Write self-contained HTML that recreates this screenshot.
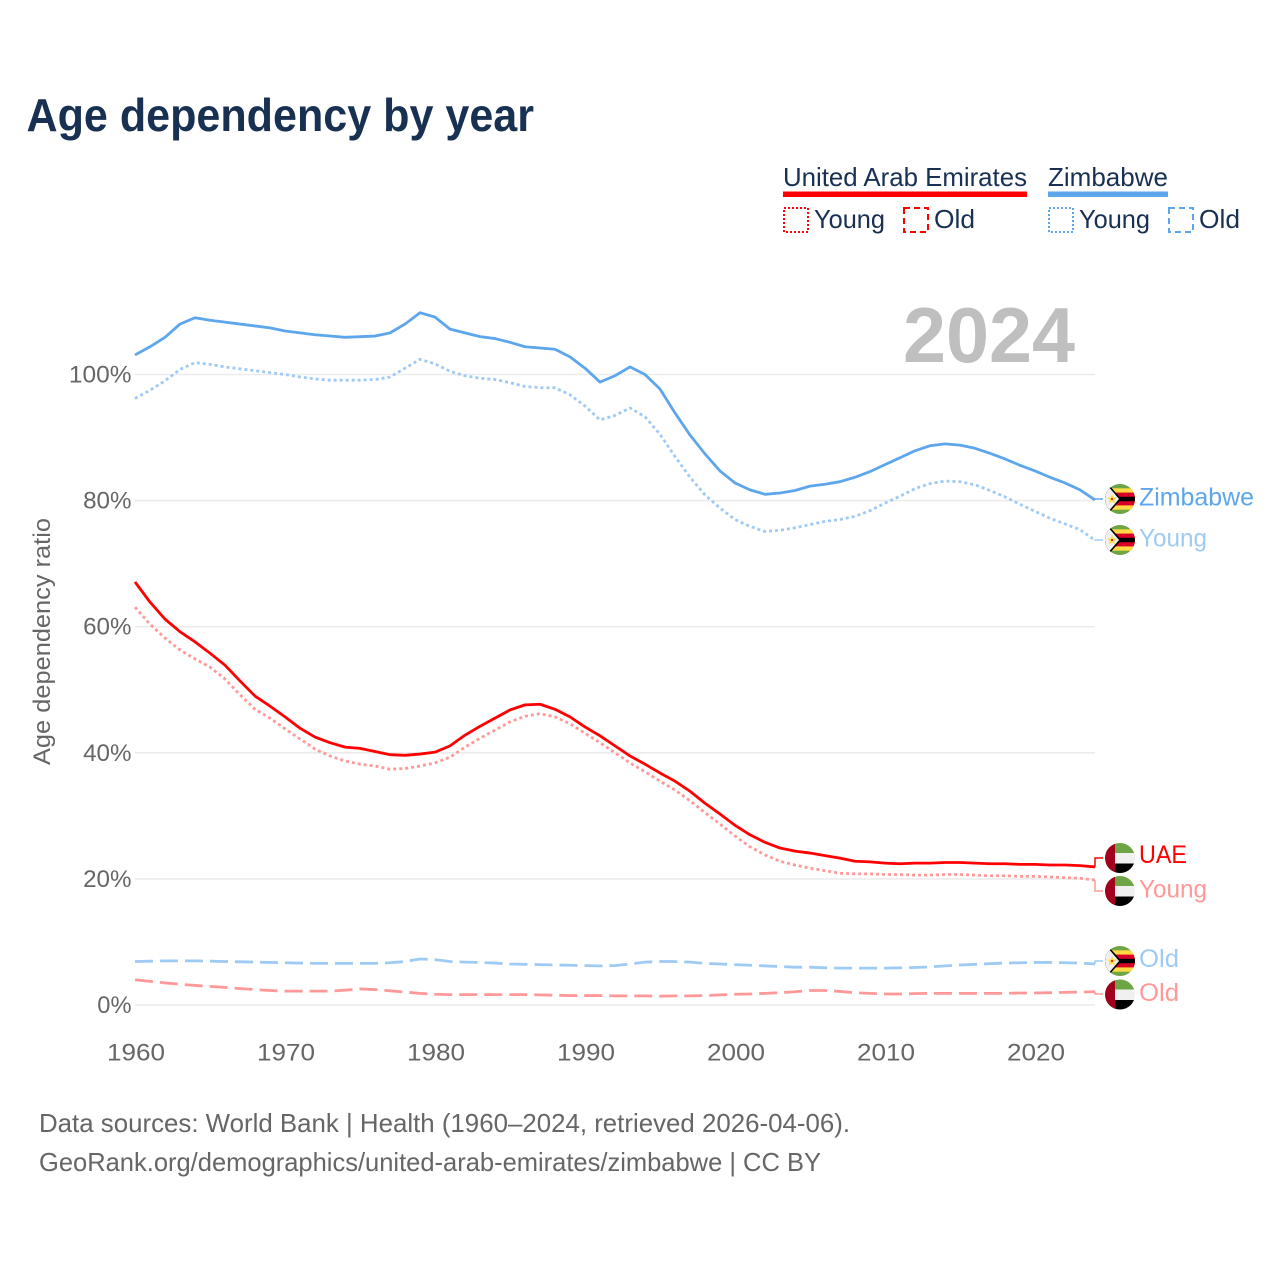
<!DOCTYPE html>
<html lang="en">
<head>
<meta charset="utf-8">
<title>Age dependency by year</title>
<style>
  html, body { margin: 0; padding: 0; background: #fff; }
  svg { display: block; font-family: "Liberation Sans", sans-serif; }
</style>
</head>
<body>
<svg id="chart" xmlns="http://www.w3.org/2000/svg" width="1280" height="1280" viewBox="0 0 1280 1280">
  <defs>
    <clipPath id="flag-clip"><circle cx="0" cy="0" r="15"/></clipPath>
    <g id="flag-zw" clip-path="url(#flag-clip)">
      <rect x="-15" y="-15" width="30" height="30" fill="#6da544"/>
      <rect x="-15" y="-10.7" width="30" height="21.4" fill="#ffda44"/>
      <rect x="-15" y="-6.4" width="30" height="12.8" fill="#d80027"/>
      <rect x="-15" y="-2.2" width="30" height="4.4" fill="#000"/>
      <path d="M-16,-16 L-12,-15 L1.5,0 L-12,15 L-16,16 Z" fill="#000"/>
      <path d="M-16,-14.5 L-12.5,-13.5 L-1,0 L-12.5,13.5 L-16,14.5 Z" fill="#f0f0f0"/>
      <path d="M-8,-5 L-6.6,-1.5 L-3,-1.5 L-5.8,0.8 L-4.9,4.5 L-8,2.4 L-11.1,4.5 L-10.2,0.8 L-13,-1.5 L-9.4,-1.5 Z" fill="#ffda44"/>
      <circle cx="-8" cy="0" r="1" fill="#d80027"/>
    </g>
    <g id="flag-ae" clip-path="url(#flag-clip)">
      <rect x="-15" y="-15" width="30" height="10" fill="#6da544"/>
      <rect x="-15" y="-5" width="30" height="10.5" fill="#f0f0f0"/>
      <rect x="-15" y="5.5" width="30" height="9.5" fill="#000"/>
      <rect x="-15" y="-15" width="10" height="30" fill="#a2001d"/>
    </g>
  </defs>

  <text x="26.5" y="131" font-size="46" font-weight="700" fill="#183153" textLength="507.5" lengthAdjust="spacingAndGlyphs">Age dependency by year</text>

  <g font-size="26" fill="#183153">
    <text x="783" y="186" textLength="244" lengthAdjust="spacingAndGlyphs">United Arab Emirates</text>
    <rect x="783" y="191.5" width="244" height="5.5" fill="#ff0000"/>
    <text x="1048" y="186" textLength="120" lengthAdjust="spacingAndGlyphs">Zimbabwe</text>
    <rect x="1048" y="191.5" width="120" height="5.5" fill="#5ea6eb"/>

    <rect x="784" y="208" width="24" height="24" fill="none" stroke="#ff0000" stroke-width="2" stroke-dasharray="2 2"/>
    <text x="814" y="228" textLength="71" lengthAdjust="spacingAndGlyphs">Young</text>
    <rect x="904" y="208" width="24" height="24" fill="none" stroke="#ff0000" stroke-width="2" stroke-dasharray="6 4"/>
    <text x="934" y="228" textLength="41" lengthAdjust="spacingAndGlyphs">Old</text>

    <rect x="1049" y="208" width="24" height="24" fill="none" stroke="#5ea6eb" stroke-width="2" stroke-dasharray="2 2"/>
    <text x="1079" y="228" textLength="71" lengthAdjust="spacingAndGlyphs">Young</text>
    <rect x="1169" y="208" width="24" height="24" fill="none" stroke="#5ea6eb" stroke-width="2" stroke-dasharray="6 4"/>
    <text x="1199" y="228" textLength="41" lengthAdjust="spacingAndGlyphs">Old</text>
  </g>

  <text transform="translate(50,765) rotate(-90)" font-size="24" fill="#666" textLength="247" lengthAdjust="spacingAndGlyphs">Age dependency ratio</text>

  <g id="grid"></g>
  <g id="y-ticks"></g>
  <g id="x-ticks"></g>

  <text x="1075" y="362" text-anchor="end" font-size="78" font-weight="700" fill="#bfbfbf" textLength="172" lengthAdjust="spacingAndGlyphs">2024</text>

  <g id="series"></g>

  <g font-size="25">
    <use href="#flag-zw" x="1120" y="499"/>
    <text x="1139" y="505.5" fill="#5ea6eb" textLength="115" lengthAdjust="spacingAndGlyphs">Zimbabwe</text>
    <use href="#flag-zw" x="1120" y="540"/>
    <text x="1139" y="546.5" fill="#9fcaf4" textLength="68" lengthAdjust="spacingAndGlyphs">Young</text>
    <use href="#flag-ae" x="1120" y="858"/>
    <text x="1139" y="863" fill="#ff0000" textLength="48" lengthAdjust="spacingAndGlyphs">UAE</text>
    <use href="#flag-ae" x="1120" y="891"/>
    <text x="1139" y="897.5" fill="#ff9999" textLength="68" lengthAdjust="spacingAndGlyphs">Young</text>
    <use href="#flag-zw" x="1120" y="961"/>
    <text x="1139" y="967" fill="#9fcaf4" textLength="40" lengthAdjust="spacingAndGlyphs">Old</text>
    <use href="#flag-ae" x="1120" y="994.5"/>
    <text x="1139" y="1001" fill="#ff9999" textLength="40" lengthAdjust="spacingAndGlyphs">Old</text>
  </g>

  <g font-size="26" fill="#666">
    <text x="39" y="1132" textLength="811" lengthAdjust="spacingAndGlyphs">Data sources: World Bank | Health (1960–2024, retrieved 2026-04-06).</text>
    <text x="39" y="1171" textLength="782" lengthAdjust="spacingAndGlyphs">GeoRank.org/demographics/united-arab-emirates/zimbabwe | CC BY</text>
  </g>
</svg>

<script>
const yearStart = 1960;
const xTickYears = [1960, 1970, 1980, 1990, 2000, 2010, 2020];
const yTickValues = [0, 20, 40, 60, 80, 100];

const zimbabweTotal = [103.1,104.4,105.9,108.0,109.0,108.6,108.3,108.0,107.7,107.4,106.9,106.6,106.3,106.1,105.9,106.0,106.1,106.6,108.0,109.8,109.1,107.2,106.6,106.0,105.7,105.1,104.4,104.2,104.0,102.8,101.0,98.8,99.8,101.2,100.0,97.7,93.9,90.4,87.4,84.7,82.8,81.7,81.0,81.2,81.6,82.3,82.6,83.0,83.7,84.6,85.7,86.8,87.9,88.7,89.0,88.8,88.3,87.5,86.6,85.6,84.7,83.7,82.8,81.7,80.1];
const zimbabweYoung = [96.2,97.5,99.0,100.8,101.9,101.6,101.2,100.9,100.6,100.3,100.0,99.6,99.3,99.1,99.1,99.1,99.2,99.6,101.0,102.4,101.7,100.5,99.8,99.4,99.2,98.7,98.1,97.9,97.9,96.8,95.0,92.8,93.5,94.7,93.3,90.5,87.0,83.7,80.9,78.8,77.0,75.9,75.1,75.3,75.7,76.2,76.7,77.0,77.5,78.4,79.6,80.7,81.9,82.7,83.1,83.0,82.5,81.6,80.6,79.4,78.3,77.2,76.3,75.4,73.7];
const zimbabweOld = [6.9,6.95,7.0,7.0,7.0,6.95,6.9,6.85,6.8,6.75,6.7,6.65,6.6,6.6,6.6,6.6,6.6,6.7,6.9,7.3,7.2,6.9,6.8,6.75,6.65,6.5,6.45,6.4,6.35,6.3,6.25,6.2,6.25,6.5,6.8,6.9,6.9,6.8,6.6,6.5,6.4,6.3,6.2,6.1,6.0,6.0,5.9,5.85,5.85,5.85,5.85,5.9,5.95,6.05,6.2,6.35,6.45,6.55,6.65,6.7,6.75,6.75,6.7,6.65,6.5];
const uaeTotal = [67.1,63.9,61.2,59.2,57.6,55.8,53.9,51.4,49.0,47.4,45.7,43.9,42.5,41.6,40.9,40.7,40.2,39.7,39.6,39.8,40.1,41.1,42.8,44.2,45.5,46.8,47.6,47.7,46.9,45.7,44.1,42.7,41.1,39.5,38.2,36.8,35.5,33.9,32.0,30.3,28.5,27.0,25.8,24.9,24.4,24.1,23.7,23.3,22.8,22.7,22.5,22.4,22.5,22.5,22.6,22.6,22.5,22.4,22.4,22.3,22.3,22.2,22.2,22.1,21.9];
const uaeYoung = [63.1,60.4,58.2,56.3,54.9,53.6,51.7,49.2,46.9,45.5,43.8,42.2,40.6,39.5,38.7,38.2,37.9,37.4,37.5,37.9,38.4,39.3,40.9,42.3,43.6,44.9,45.8,46.2,45.7,44.6,43.1,41.6,40.0,38.4,37.0,35.5,34.1,32.4,30.5,28.7,26.8,25.1,23.8,22.8,22.2,21.7,21.3,20.9,20.8,20.8,20.7,20.7,20.6,20.6,20.7,20.7,20.6,20.5,20.5,20.4,20.4,20.3,20.2,20.1,19.8];
const uaeOld = [4.0,3.75,3.5,3.3,3.1,2.95,2.8,2.6,2.45,2.3,2.2,2.2,2.2,2.2,2.35,2.55,2.45,2.25,2.05,1.85,1.7,1.65,1.65,1.65,1.65,1.65,1.65,1.6,1.55,1.5,1.5,1.5,1.45,1.45,1.45,1.4,1.45,1.45,1.5,1.6,1.7,1.75,1.85,1.95,2.1,2.3,2.3,2.15,1.95,1.85,1.75,1.75,1.8,1.85,1.85,1.85,1.85,1.85,1.85,1.9,1.9,1.95,2.0,2.05,2.1];

const NS = 'http://www.w3.org/2000/svg';
function xScale(year) { return 135 + (year - 1960) * 15; }
function yScale(value) { return 1005 - value * 6.305; }
function make(tag, attrs, parent) {
  const el = document.createElementNS(NS, tag);
  for (const k in attrs) el.setAttribute(k, attrs[k]);
  parent.appendChild(el);
  return el;
}

const grid = document.getElementById('grid');
const yTicks = document.getElementById('y-ticks');
yTickValues.forEach(function (v) {
  const line = make('line', { x1: 135, x2: 1095, y1: yScale(v), y2: yScale(v), stroke: '#ececec', 'stroke-width': 1.6 }, grid);
  
  
  const label = String(v) + '%';
  const t = make('text', { x: 131.5, y: yScale(v) + 8, 'text-anchor': 'end', 'font-size': 24, fill: '#666', textLength: (label.length - 1) * 14.2 + 20, lengthAdjust: 'spacingAndGlyphs' }, yTicks);
  t.textContent = label;
  
  
});

const xTicks = document.getElementById('x-ticks');
xTickYears.forEach(function (yr) {
  const t = make('text', { x: xScale(yr) + 1, y: 1060.5, 'text-anchor': 'middle', 'font-size': 24, fill: '#666', textLength: 58, lengthAdjust: 'spacingAndGlyphs' }, xTicks);
  t.textContent = String(yr);
  
  
});

const seriesGroup = document.getElementById('series');
function drawSeries(name, values, color, dash, labelY) {
  const d = values.map(function (v, i) {
    return (i ? 'L' : 'M') + xScale(yearStart + i).toFixed(1) + ',' + yScale(v).toFixed(2);
  }).join(' ');
  const attrs = { d: d, fill: 'none', stroke: color, 'stroke-width': 2.8, 'stroke-linejoin': 'round' };
  if (dash) attrs['stroke-dasharray'] = dash;
  const path = make('path', attrs, seriesGroup);
  
  
  const endY = yScale(values[values.length - 1]);
  const conn = make('path', { d: 'M1095,' + endY.toFixed(2) + ' L1095,' + labelY + ' L1103,' + labelY, fill: 'none', stroke: color, 'stroke-width': 1.5 }, seriesGroup);
  
  
}

const dotted = '3 3';
const dashed = '18 7';
drawSeries('line-zimbabwe-old', zimbabweOld, '#9fcaf4', dashed, 961);
drawSeries('line-uae-old', uaeOld, '#ff9999', dashed, 994);
drawSeries('line-zimbabwe-young', zimbabweYoung, '#9fcaf4', dotted, 540);
drawSeries('line-uae-young', uaeYoung, '#ff9999', dotted, 891);
drawSeries('line-zimbabwe-total', zimbabweTotal, '#5ea6eb', null, 499);
drawSeries('line-uae-total', uaeTotal, '#ff0000', null, 858);
</script>
</body>
</html>
